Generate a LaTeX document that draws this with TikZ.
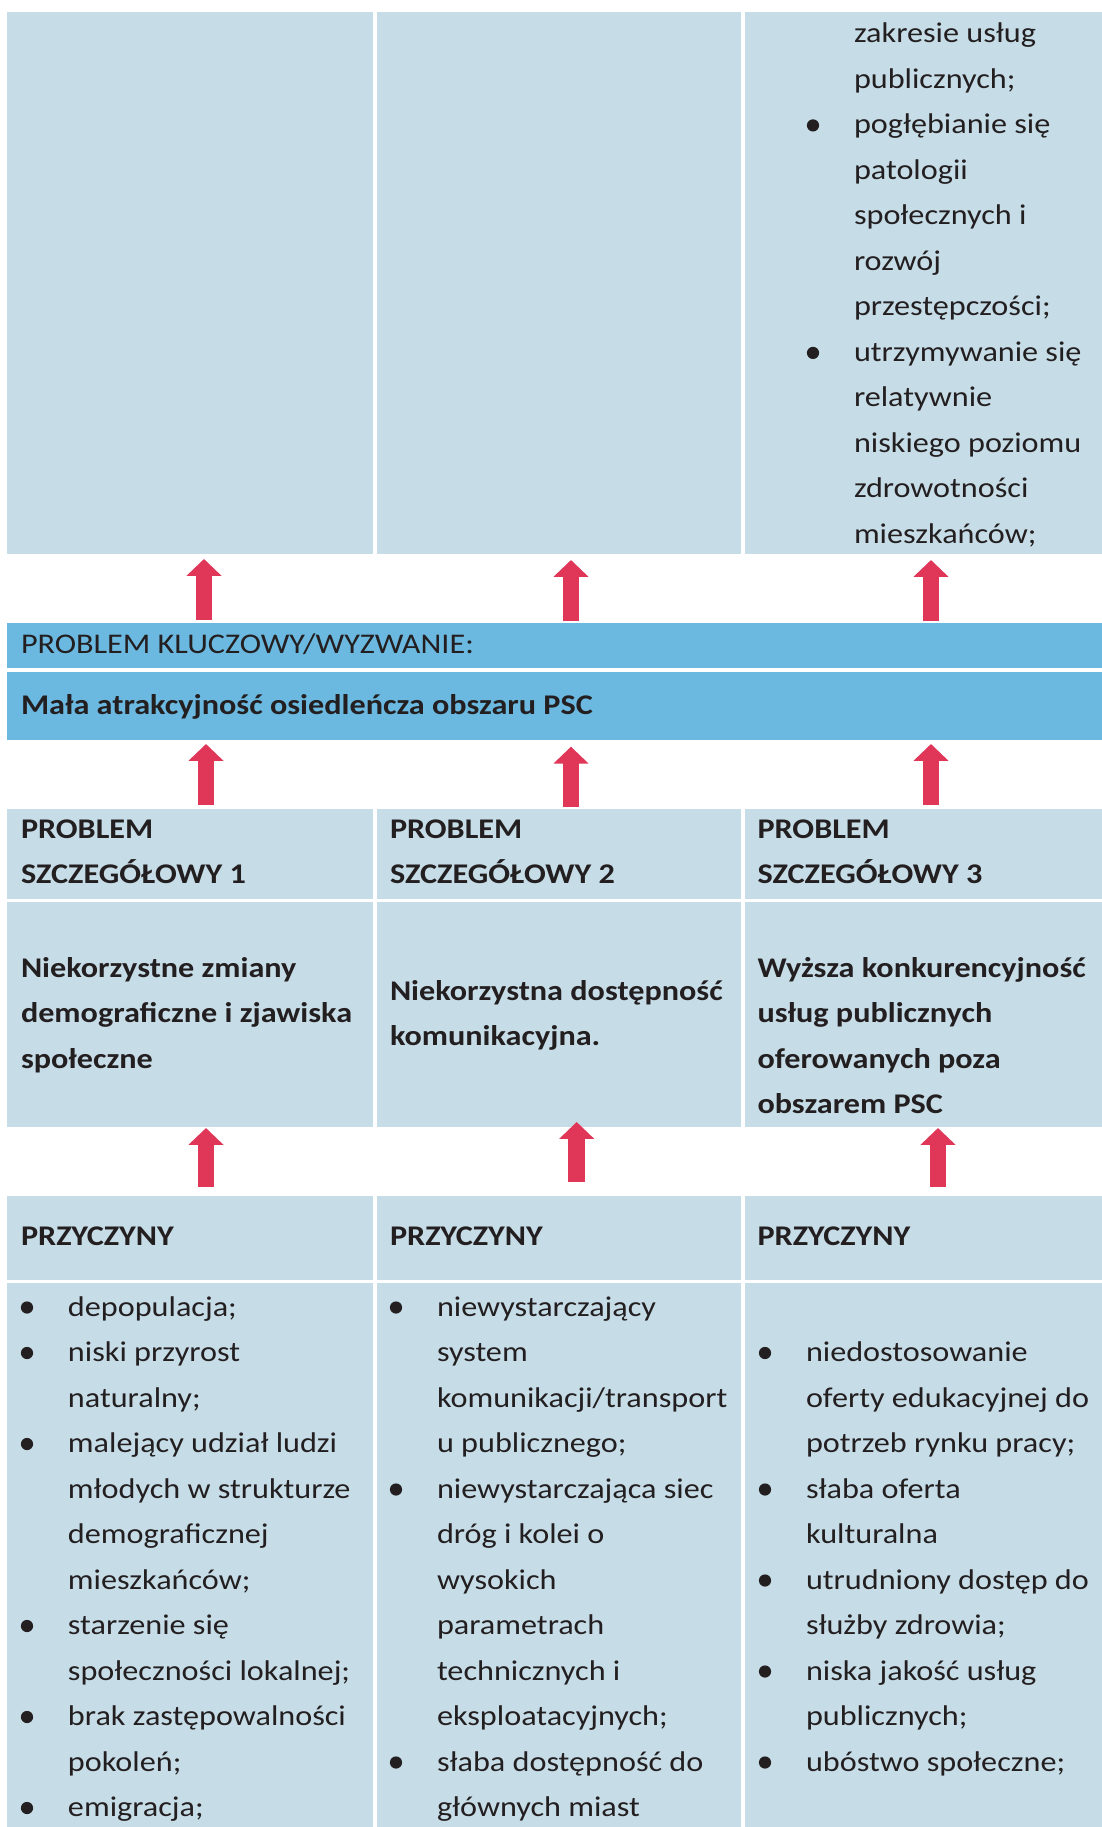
\documentclass[tikz,border=0pt]{standalone}
\usepackage{fontspec}
\setmainfont{Carlito}[FakeStretch=1.13]
\usetikzlibrary{arrows.meta,calc}
\definecolor{cellblue}{RGB}{198,220,231}
\definecolor{barblue}{RGB}{107,185,224}
\definecolor{arrowred}{RGB}{224,54,88}
\definecolor{ink}{RGB}{35,31,32}
\newcommand\bdot{\tikz[baseline=0pt,x=1pt,y=1pt]\fill[ink] (0,4.25) circle[radius=3.05pt];}
\newcommand\itm{\makebox[25.5pt][l]{\makebox[10pt][c]{\bdot}}}
\newcommand\cnt{\hspace*{25.5pt}}
\tikzset{
  cell/.style={rectangle, fill=cellblue, draw=none, inner sep=0pt, outer sep=0pt, anchor=north west},
  bar/.style={rectangle, fill=barblue, draw=none, inner sep=0pt, outer sep=0pt, anchor=north west},
  txt/.style={anchor=north west, inner sep=0pt, outer sep=0pt, align=left, text=ink, font=\fontsize{14.25}{22.75}\selectfont},
  btxt/.style={txt, font=\fontsize{14.25}{22.75}\selectfont\bfseries},
  bigarrow/.style={draw=arrowred, line width=8.35pt, -{Triangle[width=17pt,length=8.4pt]}}
}
\begin{document}
\begin{tikzpicture}[x=0.5pt,y=-0.5pt]
\useasboundingbox (0,0) rectangle (1102,1827);
\fill[white] (0,0) rectangle (1102,1827);
% top row
\node[cell, minimum width=183pt, minimum height=271pt] (t1) at (7,12) {};
\node[cell, minimum width=182pt, minimum height=271pt] (t2) at (377,12) {};
\node[cell, minimum width=178.5pt, minimum height=271pt] (t3) at (745,12) {};
% key problem bars
\node[bar, minimum width=547.5pt, minimum height=22.5pt] (bar1) at (7,623) {};
\node[bar, minimum width=547.5pt, minimum height=34pt] (bar2) at (7,672) {};
% header row
\node[cell, minimum width=183pt, minimum height=45pt] (h1) at (7,809) {};
\node[cell, minimum width=182pt, minimum height=45pt] (h2) at (377,809) {};
\node[cell, minimum width=178.5pt, minimum height=45pt] (h3) at (745,809) {};
% description row
\node[cell, minimum width=183pt, minimum height=112.5pt] (d1) at (7,902) {};
\node[cell, minimum width=182pt, minimum height=112.5pt] (d2) at (377,902) {};
\node[cell, minimum width=178.5pt, minimum height=112.5pt] (d3) at (745,902) {};
% causes header
\node[cell, minimum width=183pt, minimum height=42pt] (p1) at (7,1196) {};
\node[cell, minimum width=182pt, minimum height=42pt] (p2) at (377,1196) {};
\node[cell, minimum width=178.5pt, minimum height=42pt] (p3) at (745,1196) {};
% causes lists
\node[cell, minimum width=183pt, minimum height=272pt] (l1) at (7,1283) {};
\node[cell, minimum width=182pt, minimum height=272pt] (l2) at (377,1283) {};
\node[cell, minimum width=178.5pt, minimum height=272pt] (l3) at (745,1283) {};

% texts
\node[txt] (tt3) at (803,11.05) {\strut\cnt zakresie usług\\ \cnt publicznych;\\ \itm pogłębianie się\\ \cnt patologii\\ \cnt społecznych i\\ \cnt rozwój\\ \cnt przestępczości;\\ \itm utrzymywanie się\\ \cnt relatywnie\\ \cnt niskiego poziomu\\ \cnt zdrowotności\\ \cnt mieszkańców;};
\node[txt] (kt1) at (21,621.15) {\strut PROBLEM KLUCZOWY/WYZWANIE:};
\node[btxt] (kt2) at (21,682.15) {\strut Mała atrakcyjność osiedleńcza obszaru PSC};
\node[btxt] (ht1) at (21,806.45) {\strut PROBLEM\\ SZCZEGÓŁOWY 1};
\node[btxt] (ht2) at (390,806.45) {\strut PROBLEM\\ SZCZEGÓŁOWY 2};
\node[btxt] (ht3) at (757.5,806.45) {\strut PROBLEM\\ SZCZEGÓŁOWY 3};
\node[btxt] (dt1) at (21,945.15) {\strut Niekorzystne zmiany\\ demograficzne i zjawiska\\ społeczne};
\node[btxt] (dt2) at (390,968.15) {\strut Niekorzystna dostępność\\ komunikacyjna.};
\node[btxt] (dt3) at (757.5,945.15) {\strut Wyższa konkurencyjność\\ usług publicznych\\ oferowanych poza\\ obszarem PSC};
\node[btxt] (pt1) at (21,1213.85) {\strut PRZYCZYNY};
\node[btxt] (pt2) at (390,1213.85) {\strut PRZYCZYNY};
\node[btxt] (pt3) at (757.5,1213.85) {\strut PRZYCZYNY};
\node[txt] (lt1) at (17,1284.15) {\strut\itm depopulacja;\\ \itm niski przyrost\\ \cnt naturalny;\\ \itm malejący udział ludzi\\ \cnt młodych w strukturze\\ \cnt demograficznej\\ \cnt mieszkańców;\\ \itm starzenie się\\ \cnt społeczności lokalnej;\\ \itm brak zastępowalności\\ \cnt pokoleń;\\ \itm emigracja;};
\node[txt] (lt2) at (386,1284.15) {\strut\itm niewystarczający\\ \cnt system\\ \cnt komunikacji/transport\\ \cnt u publicznego;\\ \itm niewystarczająca siec\\ \cnt dróg i kolei o\\ \cnt wysokich\\ \cnt parametrach\\ \cnt technicznych i\\ \cnt eksploatacyjnych;\\ \itm słaba dostępność do\\ \cnt głównych miast};
\node[txt] (lt3) at (755,1329.65) {\strut\itm niedostosowanie\\ \cnt oferty edukacyjnej do\\ \cnt potrzeb rynku pracy;\\ \itm słaba oferta\\ \cnt kulturalna\\ \itm utrudniony dostęp do\\ \cnt służby zdrowia;\\ \itm niska jakość usług\\ \cnt publicznych;\\ \itm ubóstwo społeczne;};

% arrow columns
\coordinate (xa1) at (204,0);
\coordinate (xa2) at (571,0);
\coordinate (xa3) at (931,0);
\coordinate (xb1) at (206,0);
\coordinate (xc2) at (576.7,0);
\coordinate (xc3) at (938,0);
% row A: key problem -> effects
\draw[bigarrow] ($(bar1.north -| xa1)+(0,-3)$) -- ($(t1.south -| xa1)+(0,5)$);
\draw[bigarrow] ($(bar1.north -| xa2)+(0,-2.3)$) -- ($(t2.south -| xa2)+(0,6)$);
\draw[bigarrow] ($(bar1.north -| xa3)+(0,-2.3)$) -- ($(t3.south -| xa3)+(0,6)$);
% row B: detailed problems -> key problem
\draw[bigarrow] ($(h1.north -| xb1)+(0,-4)$) -- ($(bar2.south -| xb1)+(0,4)$);
\draw[bigarrow] ($(h2.north -| xa2)+(0,-2.3)$) -- ($(bar2.south -| xa2)+(0,6.7)$);
\draw[bigarrow] ($(h3.north -| xa3)+(0,-4)$) -- ($(bar2.south -| xa3)+(0,4)$);
% row C: causes -> detailed problems
\draw[bigarrow] ($(p1.north -| xb1)+(0,-9)$) -- ($(d1.south -| xb1)+(0,1)$);
\draw[bigarrow] ($(p2.north -| xc2)+(0,-14)$) -- ($(d2.south -| xc2)+(0,-5)$);
\draw[bigarrow] ($(p3.north -| xc3)+(0,-9)$) -- ($(d3.south -| xc3)+(0,1)$);
\end{tikzpicture}
\end{document}
